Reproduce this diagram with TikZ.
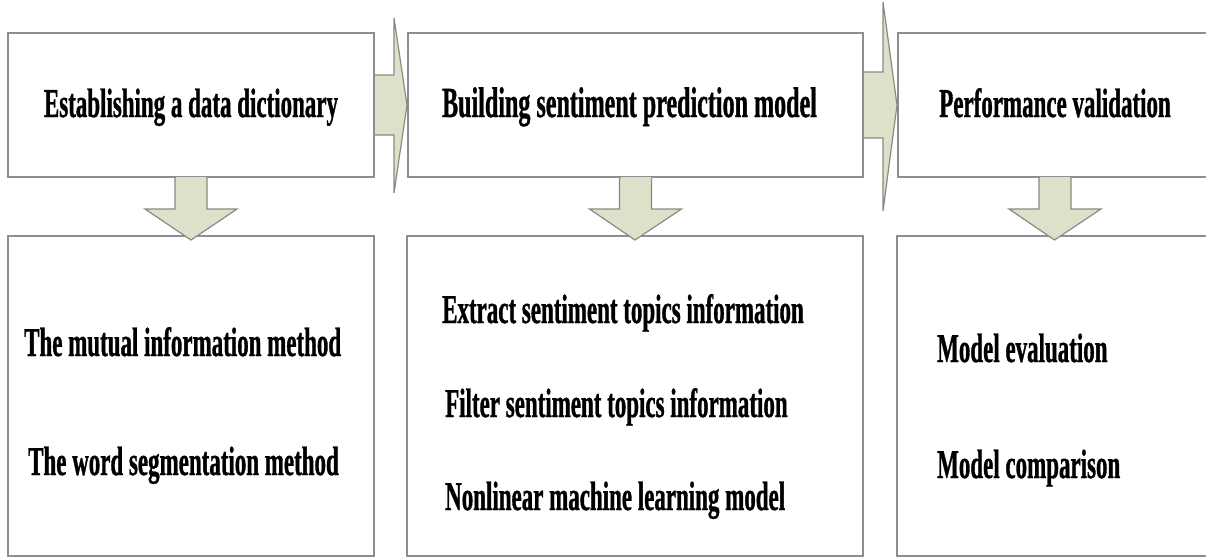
\documentclass[tikz,border=0pt]{standalone}
\usepackage{fontspec}
\newfontfamily\tnr[FakeStretch=0.56,FakeBold=0.8]{Liberation Serif}
\usetikzlibrary{calc}
\definecolor{boxline}{HTML}{8E8E8E}
\definecolor{arrowfill}{HTML}{DEE0CA}
\definecolor{arrowline}{HTML}{8A8A84}
\begin{document}
\begin{tikzpicture}[x=1pt,y=-1pt,
  box/.style={draw=boxline,line width=2pt,fill=white,rectangle,inner sep=0pt},
  blk/.style={draw=arrowline,line width=1.2pt,fill=arrowfill,line join=miter},
  lbl/.style={font=\tnr\bfseries\fontsize{41}{41}\selectfont,inner sep=0pt,text=black},
  title/.style={lbl,anchor=base},
  item/.style={lbl,anchor=base west}]
\useasboundingbox (0,0) rectangle (1206,558);
% top boxes
\node[box,minimum width=366pt,minimum height=144pt] (t1) at (191,105) {};
\node[box,minimum width=455pt,minimum height=144pt] (t2) at (635.5,105) {};
\node[box,minimum width=314pt,minimum height=144pt] (t3) at (1055,105) {};
% bottom boxes
\node[box,minimum width=366pt,minimum height=320pt] (b1) at (191,396) {};
\node[box,minimum width=456pt,minimum height=320pt] (b2) at (635,396) {};
\node[box,minimum width=315pt,minimum height=320pt] (b3) at (1054.5,396) {};
% right block arrows
\draw[blk] ($(t1.east)+(0,-30)$) -- ++(19,0) -- ++(0,-57) -- (t2.west)
  -- ($(t1.east)+(19,88)$) -- ++(0,-58) -- ($(t1.east)+(0,30)$);
\draw[blk] ($(t2.east)+(0,-33)$) -- ++(19,0) -- ++(0,-70) -- (t3.west)
  -- ($(t2.east)+(19,106)$) -- ++(0,-73) -- ($(t2.east)+(0,33)$);
\fill[arrowfill] ($(t1.east)+(-0.2,-29)$) rectangle ($(t1.east)+(2,29)$);
\fill[arrowfill] ($(t2.east)+(-0.2,-32)$) rectangle ($(t2.east)+(2,32)$);
% down block arrows
\foreach \a/\b in {t1/b1,t2/b2,t3/b3}{
  \draw[blk] ($(\a.south)+(-16,0)$) -- ++(0,31) -- ++(-30,0) -- ($(\b.north)+(0,5)$)
    -- ($(\a.south)+(46,31)$) -- ++(-30,0) -- ($(\a.south)+(16,0)$);
  \fill[arrowfill] ($(\a.south)+(-15,-1)$) rectangle ($(\a.south)+(15,2)$);
}
% titles
\node[title] (l1) at ($(t1.center)+(0,12)$) {Establishing a data dictionary};
\node[title,font=\tnr\bfseries\fontsize{43}{43}\selectfont] (l2) at ($(t2.center)+(-6,12)$) {Building sentiment prediction model};
\node[title] (l3) at ($(t3.center)+(0,12)$) {Performance validation};
% items
\node[item] (i11) at (24,356) {The mutual information method};
\node[item] (i12) at (28,475) {The word segmentation method};
\node[item] (i21) at (442,323) {Extract sentiment topics information};
\node[item] (i22) at (445,417) {Filter sentiment topics information};
\node[item] (i23) at (445,510) {Nonlinear machine learning model};
\node[item] (i31) at (937,362) {Model evaluation};
\node[item] (i32) at (937,478) {Model comparison};
\end{tikzpicture}
\end{document}
